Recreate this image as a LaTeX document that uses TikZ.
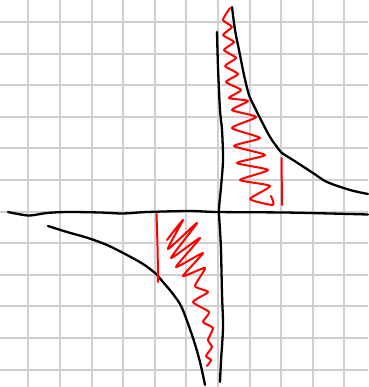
\documentclass[tikz,border=0pt]{standalone}
\begin{document}
\begin{tikzpicture}[x=1pt,y=-1pt,
  gridline/.style={draw={rgb,255:red,208;green,208;blue,208},line width=2pt},
  inkline/.style={draw=black,line width=2.3pt,line cap=round,line join=round},
  redink/.style={draw={rgb,255:red,255;green,0;blue,0},line width=2pt,line cap=round,line join=round}]
\useasboundingbox[fill=white] (0,0) rectangle (368,387);
% grid
\foreach \k in {0,...,10} {\draw[gridline] ({28.4+31.6*\k},0) -- ({28.4+31.6*\k},387);}
\foreach \k in {0,...,11} {\draw[gridline] (0,{22+31.6*\k}) -- (368,{22+31.6*\k});}
% axes
\draw[inkline] plot[smooth,tension=0.5] coordinates {(8,212) (18,214) (30,215.5) (47,213) (67,212) (100,212.5) (123,213.5) (147,212) (190,211) (217,212) (284,212.5) (330,213.5) (368,214.5)};
\draw[inkline] plot[smooth,tension=0.5] coordinates {(217,32) (218,67) (220,110) (222,130) (223,160) (221,187) (219,210) (220,230) (221,250) (222,294) (223,327) (221,361) (220,382)};
% hyperbola branches
\draw[inkline] plot[smooth,tension=0.5] coordinates {(232,7) (235,30) (239,50) (244,75) (249,95) (255,108) (261,120) (270,137) (277,147) (282,153) (293,160) (313,173) (327,182) (350,190) (368,194)};
\draw[inkline] plot[smooth,tension=0.5] coordinates {(48,226) (67,232) (88,238) (107,245) (127,255) (143,264) (155,273) (163,282) (173,294) (182,308) (193,338) (200,362) (205,385)};
% red bounds
\draw[redink] (281.5,158) -- (282,205);
\draw[redink] plot[smooth] coordinates {(156.5,214) (157.6,250) (158,282)};
% red zigzags
\draw[redink] plot[smooth,tension=0.35] coordinates {(230,8) (223,20) (232,27) (223,35) (234,42) (224,50) (236,58) (225,66) (238,74) (226,82) (241,90) (229,98) (248,101) (232,110) (256,117) (232,128) (260,138) (234,146) (265,155) (237,163) (268,170) (240,180) (270,186) (250,199) (273,205) (271,196)};
\draw[redink] plot[smooth,tension=0.35] coordinates {(167,240) (183,220) (168,249) (197,223) (171,258) (200,238) (176,267) (203,253) (183,276) (205,268) (195,286) (208,292) (193,302) (209,312) (203,322) (213,328) (208,340) (212,347) (206,356) (211,360) (207,366)};
\end{tikzpicture}
\end{document}
